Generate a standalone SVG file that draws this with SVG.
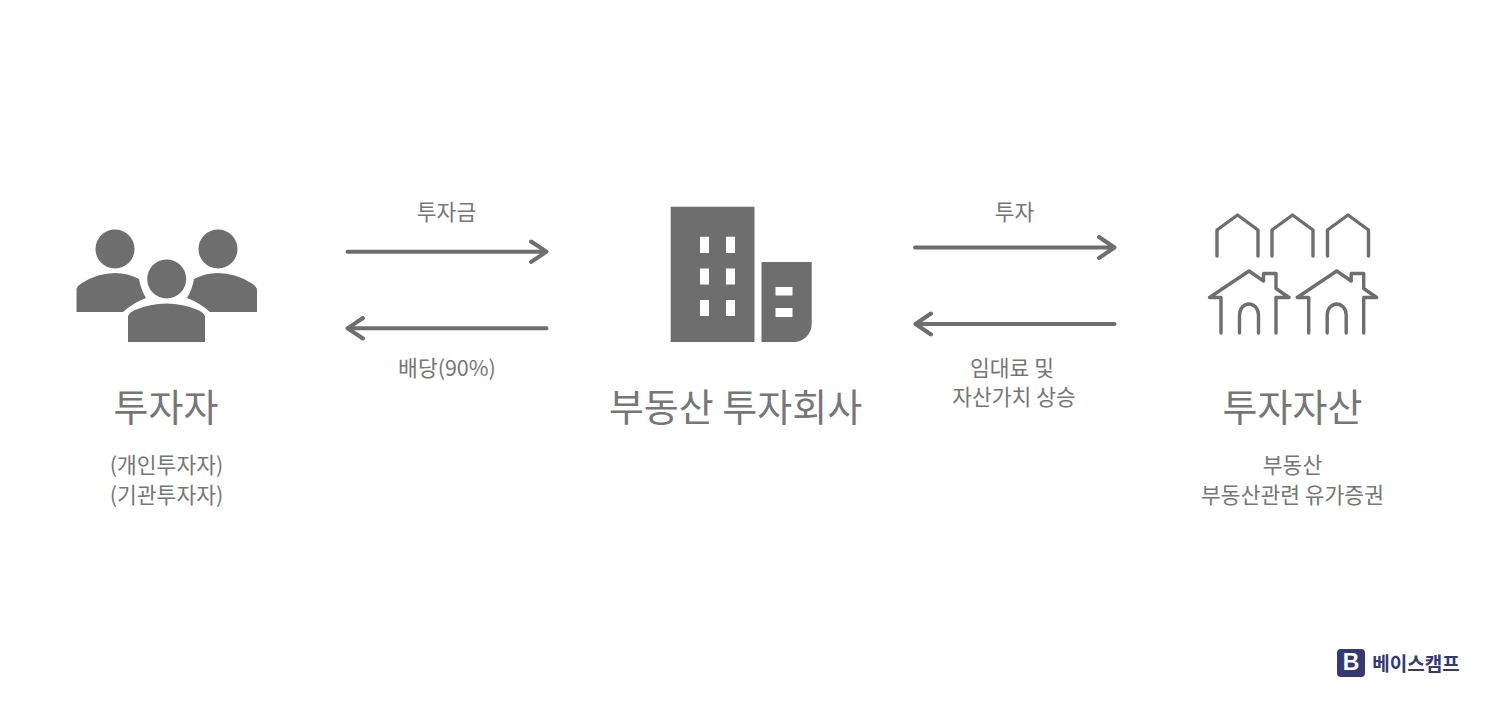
<svg xmlns="http://www.w3.org/2000/svg" width="1486" height="714" viewBox="0 0 1486 714">
<style>
text{font-family:"Noto Sans CJK KR","Noto Sans",sans-serif;fill:#767676;text-anchor:middle}
.t{font-size:38px}
.s{font-size:21.500px}
.f{fill:#6e6e6e}
.l{fill:none;stroke:#6e6e6e;stroke-width:3.400;stroke-linecap:round;stroke-linejoin:round}
.c{fill:none;stroke:#6e6e6e;stroke-width:4;stroke-linecap:round;stroke-linejoin:round}
</style>
<defs>
<path id="h1" class="l" d="M0 41V15L20.500 0L41 15V41"/>
<g id="h2"><path class="l" d="M1221 333V297.500H1209.500L1249 271L1263.500 281V273.500H1276V288.500L1289 297.500H1276V333"/><path class="l" d="M1239.500 333V315A9.500 11 0 0 1 1258.500 315V333"/></g>
</defs>
<rect width="1486" height="714" fill="#fff"/>
<g id="investor">
<circle class="f" cx="115" cy="249" r="19.500"/>
<circle class="f" cx="218" cy="249" r="19.500"/>
<circle class="f" cx="166.700" cy="279" r="19.500"/>
<path class="f" d="M76.500 312V289Q78 285 82 283Q98 273 115 273Q128 273 139 279Q141 290 146 298Q133 303 123 312Z"/>
<path class="f" d="M257 312V289Q255 285 251 283Q235 273 218 273Q205 273 194 279Q192 290 187 298Q200 303 210 312Z"/>
<path class="f" d="M128 342V316Q130 312 135 310Q150 303.500 166.500 303.500Q183 303.500 198 310Q203 312 205 316V342Z"/>
<text class="t" x="166" y="421">투자자</text>
<text class="s" x="166.500" y="473">(개인투자자)</text>
<text class="s" x="166.500" y="503">(기관투자자)</text>
</g>
<g id="company">
<path class="f" fill-rule="evenodd" d="M670.700 206.700H754.500V342H670.700ZM700 236.700V253H709V236.700ZM726 236.700V253H735V236.700ZM700 268.500V284.500H709V268.500ZM726 268.500V284.500H735V268.500ZM700 300V316H709V300ZM726 300V316H735V300Z"/>
<path class="f" fill-rule="evenodd" d="M761.500 262H811.700V324A18 18 0 0 1 793.700 342H761.500ZM775.500 287V295.500H792.500V287ZM775.500 308V317H792.500V308Z"/>
<text class="t" x="735.500" y="421">부동산 투자회사</text>
</g>
<g id="assets">
<use href="#h1" x="1217" y="215"/>
<use href="#h1" x="1272" y="215"/>
<use href="#h1" x="1327.500" y="215"/>
<use href="#h2"/>
<use href="#h2" x="87.700"/>
<text class="t" x="1292.500" y="421">투자자산</text>
<text class="s" x="1292.500" y="473">부동산</text>
<text class="s" x="1292.500" y="503">부동산관련 유가증권</text>
</g>
<g id="connectors">
<path class="c" d="M347.500 251.700H546.500M531 241.500L546.500 251.700L531 262"/>
<path class="c" d="M546.500 328.300H347.500M363 318L347.500 328.300L363 338.500"/>
<path class="c" d="M915 247.500H1114.500M1099 237L1114.500 247.500L1099 258"/>
<path class="c" d="M1114.500 324H915.500M931 313.500L915.500 324L931 334.500"/>
</g>
<g id="labels">
<text class="s" x="446.500" y="220">투자금</text>
<text class="s" x="447" y="376">배당(90%)</text>
<text class="s" x="1014.500" y="220">투자</text>
<text class="s" x="1012" y="376">임대료 및</text>
<text class="s" x="1014" y="405">자산가치 상승</text>
</g>
<g id="logo">
<rect x="1337" y="649" width="28" height="28" rx="4" fill="#333a73"/>
<text x="1351" y="670" style="font-family:'Liberation Sans',sans-serif;font-size:23px;font-weight:700;fill:#fff">B</text>
<text x="1416" y="671" style="font-size:19px;font-weight:700;fill:#333a73">베이스캠프</text>
</g>
</svg>
